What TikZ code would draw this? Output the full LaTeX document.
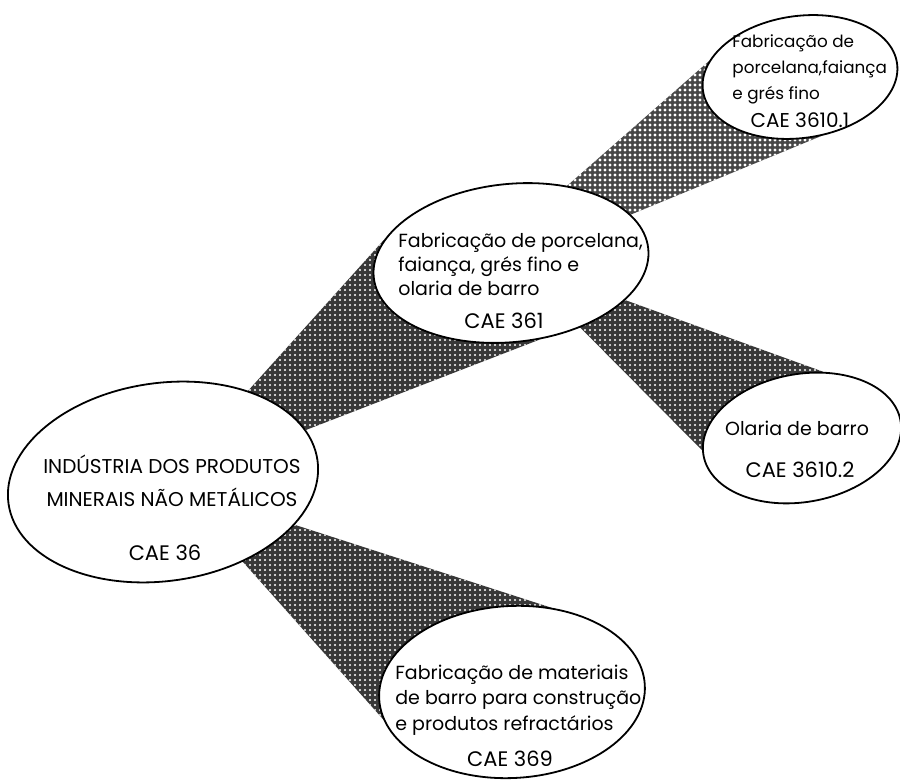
\documentclass[tikz,border=0pt]{standalone}
\usepackage{fontspec}
\setmainfont{Poppins}
\usetikzlibrary{shapes.geometric,patterns.meta,backgrounds}

\tikzdeclarepattern{
  name=holes,
  type=uncolored,
  bounding box={(-1.25pt,-1.25pt) and (1.25pt,1.25pt)},
  tile size={(2.5pt,2.5pt)},
  code={\fill (0,0) circle (0.55pt);}
}
\tikzdeclarepattern{
  name=bigholes,
  type=uncolored,
  bounding box={(-1.25pt,-1.25pt) and (1.25pt,1.25pt)},
  tile size={(2.5pt,2.5pt)},
  code={\fill (0,0) circle (0.8pt);}
}

\begin{document}
\begin{tikzpicture}[x=0.5pt,y=-0.5pt,
    bubble/.style={ellipse, draw, line width=0.9pt, fill=white, inner sep=0pt},
    band/.style={fill=black!78, postaction={pattern=holes, pattern color=white}},
    lightband/.style={fill=black!72, postaction={pattern=bigholes, pattern color=white}},
    txt/.style={inner sep=0pt, align=left, font=\fontsize{9.5}{12}\selectfont},
    code/.style={inner sep=0pt, font=\fontsize{10.5}{12}\selectfont}]
  \useasboundingbox (0,0) rectangle (900,780);

  % Ellipses
  \node[bubble, minimum width=156pt, minimum height=99pt, rotate=8] (ind) at (163,482) {};
  \node[bubble, minimum width=138pt, minimum height=79pt, rotate=6] (fab) at (511,263) {};
  \node[bubble, minimum width=98pt, minimum height=61pt, rotate=8] (porc) at (800,77) {};
  \node[bubble, minimum width=100pt, minimum height=64pt, rotate=10] (ola) at (802,438) {};
  \node[bubble, minimum width=133pt, minimum height=86pt, rotate=3] (mat) at (512,692) {};

  % Texts
  \node[txt, align=center, font=\fontsize{10}{16.5}\selectfont] (indt) at (172,481)
    {INDÚSTRIA DOS PRODUTOS\\MINERAIS NÃO METÁLICOS};
  \node[code] (indc) at (165,553) {CAE 36};
  \node[txt, anchor=west] (fabt) at (398,264)
    {Fabricação de porcelana,\\faiança, grés fino e\\olaria de barro};
  \node[code] (fabc) at (504,321) {CAE 361};
  \node[txt, anchor=west, font=\fontsize{8.4}{13}\selectfont] (porct) at (732,69)
    {Fabricação de\\porcelana,faiança\\e grés fino};
  \node[code, font=\fontsize{10}{12}\selectfont] (porcc) at (800,120) {CAE 3610.1};
  \node[txt] (olat) at (797,428) {Olaria de barro};
  \node[code] (olac) at (800,470) {CAE 3610.2};
  \node[txt, anchor=west, font=\fontsize{9.5}{12.7}\selectfont] (matt) at (395,700)
    {Fabricação de materiais\\de barro para construção\\e produtos refractários};
  \node[code] (matc) at (510,759) {CAE 369};

  % Bands
  \begin{scope}[on background layer]
    \fill[white] (0,0) rectangle (900,780);
    \path[band] (ind.center) -- (ind.39) -- (fab.163) -- (fab.center)
      -- (fab.285) -- (ind.12) -- cycle;
    \path[lightband] (fab.center) -- (fab.48) -- (porc.162) -- (porc.center)
      -- (porc.282) -- (fab.16) -- cycle;
    \path[band] (fab.center) -- (fab.336) -- (ola.62) -- (ola.center)
      -- (ola.177) -- (fab.311) -- cycle;
    \path[band] (ind.center) -- (ind.334) -- (mat.62) -- (mat.center)
      -- (mat.189) -- (ind.307) -- cycle;
  \end{scope}
\end{tikzpicture}
\end{document}
